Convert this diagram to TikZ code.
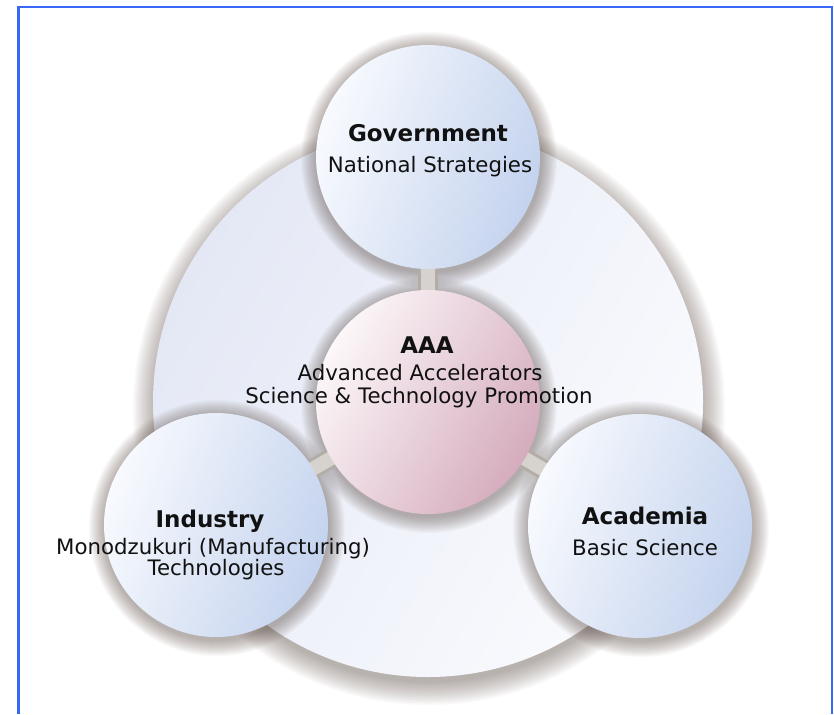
\documentclass[tikz,border=0pt]{standalone}
\usepackage{fontspec}
\setmainfont{DejaVu Sans}
\pgfdeclarelayer{lay0}
\pgfdeclarelayer{lay1}
\pgfdeclarelayer{lay2}
\pgfsetlayers{lay0,lay1,lay2,main}
\definecolor{frameblue}{HTML}{3A68F6}
\definecolor{shadowc}{HTML}{5E4E46}
\definecolor{outerL}{HTML}{E4E8F5}
\definecolor{outerR}{HTML}{FAFBFE}
\definecolor{satL}{HTML}{F8FAFE}
\definecolor{satR}{HTML}{C4D3EE}
\definecolor{aaaL}{HTML}{FCF7F9}
\definecolor{aaaR}{HTML}{D5ACBD}
\definecolor{barDark}{HTML}{B4ADA7}
\definecolor{barLight}{HTML}{D6D2CD}
\definecolor{txt}{HTML}{111111}
% soft shadow: centre, radius, spread, x-offset, y-offset
\newcommand{\mysoftshadow}[5]{%
  \foreach \k in {1,...,16}{%
    \fill[shadowc, opacity=0.032] ([shift={(#4,#5)}]#1) circle[radius={#2pt+#3pt*\k/16}];
  }%
}
\tikzset{
  outerdisc/.style={circle, minimum size=550pt, inner sep=0pt, left color=outerL, right color=outerR, shading angle=60},
  satdisc/.style={circle, minimum size=224pt, inner sep=0pt, left color=satL, right color=satR, shading angle=70},
  aaadisc/.style={circle, minimum size=224pt, inner sep=0pt, left color=aaaL, right color=aaaR, shading angle=60},
  title/.style={anchor=base, inner sep=0pt, text=txt, font=\fontsize{23}{23}\selectfont\bfseries},
  sub/.style={anchor=base, inner sep=0pt, text=txt, font=\fontsize{21.3}{21.3}\selectfont},
  barout/.style={draw=barDark, line width=20pt},
  barin/.style={draw=barLight, line width=14pt},
  frameline/.style={draw=frameblue, line width=2.2pt}
}
\begin{document}
\begin{tikzpicture}[x=1pt,y=-1pt]
\useasboundingbox (0,0) rectangle (834,714);
% circles
\node[satdisc] (gov) at (428,157) {};
\node[satdisc] (ind) at (216,525) {};
\node[satdisc] (aca) at (640,526) {};
\node[aaadisc] (aaa) at (428,402) {};
% texts
\node[title] (govT) at (428,142) {Government};
\node[sub] (govS) at (430,172) {National Strategies};
\node[title] (aaaT) at (427,353) {AAA};
\node[sub] (aaaS1) at (420,380) {Advanced Accelerators};
\node[sub] (aaaS2) at (419,403) {Science \& Technology Promotion};
\node[title] (indT) at (210,527) {Industry};
\node[sub] (indS1) at (213,554) {Monodzukuri (Manufacturing)};
\node[sub] (indS2) at (216,575) {Technologies};
\node[title] (acaT) at (645,524) {Academia};
\node[sub] (acaS) at (645,555) {Basic Science};
\begin{pgfonlayer}{lay0}
  \fill[white] (0,0) rectangle (834,714);
  \coordinate (oc) at (428,402);
  \mysoftshadow{oc}{272}{24}{1}{7}
  \node[outerdisc] (outer) at (oc) {};
\end{pgfonlayer}
\begin{pgfonlayer}{lay1}
  \mysoftshadow{gov.center}{112}{16}{1}{3}
  \mysoftshadow{ind.center}{112}{16}{1}{3}
  \mysoftshadow{aca.center}{112}{16}{1}{3}
  \mysoftshadow{aaa.center}{112}{16}{1}{3}
\end{pgfonlayer}
\begin{pgfonlayer}{lay2}
  \foreach \s in {gov,ind,aca}{
    \draw[barout] (aaa.center) -- (\s.center);
    \draw[barin] (aaa.center) -- (\s.center);
  }
\end{pgfonlayer}
% frame
\coordinate (fbl) at (18.5,714);
\coordinate (ftl) at (18.5,7);
\coordinate (ftr) at (832,7);
\coordinate (fbr) at (832,714);
\draw[frameline] (fbl) -- (ftl) -- (ftr) -- (fbr);
\end{tikzpicture}
\end{document}
